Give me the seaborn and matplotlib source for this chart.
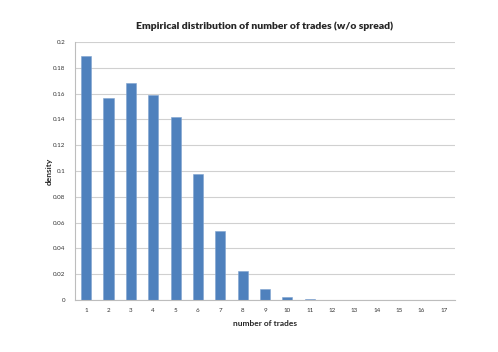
import numpy as np
import matplotlib
matplotlib.use("Agg")
import matplotlib.pyplot as plt
import seaborn as sns

# number of trades and empirical density
trades = [str(i) for i in range(1, 18)]
density = [0.189, 0.1565, 0.168, 0.159, 0.142, 0.0975, 0.0535, 0.0228,
           0.0085, 0.0027, 0.0008, 0.0003, 0.0001, 0.00005, 0.0, 0.0, 0.0]
yticks = [0, 0.02, 0.04, 0.06, 0.08, 0.1, 0.12, 0.14, 0.16, 0.18, 0.2]
ytick_labels = ["0", "0.02", "0.04", "0.06", "0.08", "0.1", "0.12", "0.14",
                "0.16", "0.18", "0.2"]

sns.set_style("white")
plt.rcParams["font.family"] = ["Lato", "DejaVu Sans"]

fig = plt.figure(figsize=(4.98, 3.52), dpi=100)
ax = fig.add_axes([0.1506, 0.1477, 0.763, 0.733])

sns.barplot(x=trades, y=density, color="#4F81BD", width=0.45,
            edgecolor="#7FA3D0", linewidth=0.4, saturation=1, ax=ax)

ax.set_xlim(-0.5, 16.5)
ax.set_ylim(0, 0.2)
ax.set_yticks(yticks)
ax.set_yticklabels(ytick_labels)
ax.yaxis.grid(True, color="#D0D0D0", linewidth=0.8)
ax.set_axisbelow(True)

for s in ["top", "right"]:
    ax.spines[s].set_visible(False)
for s in ["left", "bottom"]:
    ax.spines[s].set_color("#BDBDBD")
    ax.spines[s].set_linewidth(0.8)

ax.set_xticks(np.arange(-0.5, 17, 1), minor=True)
ax.tick_params(axis="x", which="major", length=0, labelsize=4.5, pad=6, colors="#333333")
ax.tick_params(axis="x", which="minor", length=3, color="#BDBDBD", width=0.8)
ax.tick_params(axis="y", which="major", length=3, color="#BDBDBD", width=0.8,
               labelsize=4.5, pad=4, labelcolor="#333333")

ax.set_xlabel("number of trades", fontsize=6, fontweight="bold", labelpad=5)
ax.set_ylabel("density", fontsize=6, fontweight="bold", labelpad=0)
ax.set_title("Empirical distribution of number of trades (w/o spread)",
             fontsize=7.5, fontweight="heavy", pad=9)

fig.savefig("out.png", dpi=100)
